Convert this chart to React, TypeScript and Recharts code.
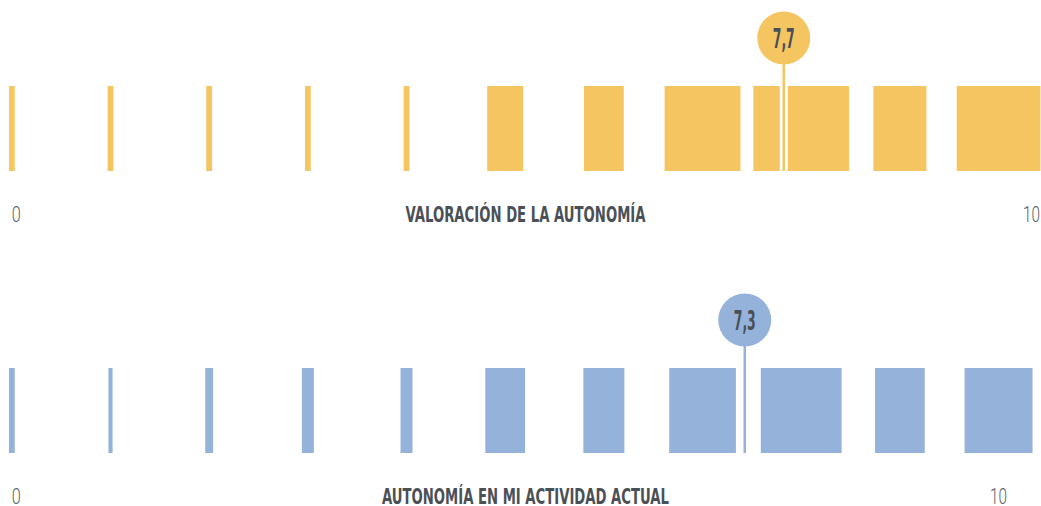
import React from 'react';
import { ComposedChart, XAxis, YAxis, ReferenceArea, ReferenceLine, ReferenceDot, Label } from 'recharts';

// score bins 0..10 and the share of answers (%) for each one
const scores = [0, 1, 2, 3, 4, 5, 6, 7, 8, 9, 10];
const autonomyShare = [1.4, 1.4, 1.4, 1.4, 1.4, 8.7, 9.6, 18.3, 23.1, 12.8, 20.2];
const currentShare = [1.4, 1.0, 1.9, 2.9, 2.9, 9.6, 9.9, 16.1, 19.5, 12.0, 16.4];
const autonomyMean = 7.7;
const currentMean = 7.3;
const tickValues = [0, 10];

const W = 1041;
const PLOT_H = 171;
const FONT = "'Liberation Sans Narrow', 'DejaVu Sans Condensed', 'Roboto Condensed', Roboto, sans-serif";
const TEXT = '#4b5057';

// bar width (in score units) per percentage point
const SHARE_TO_SCORE = 0.042;
const Y_MAX = 2.012;
const PIN_Y = 1.565;

type RowProps = {
  shares: number[];
  mean: number;
  color: string;
  title: string;
  titleLength: number;
  lastTickAtEdge: boolean;
  height: number;
};

const fmt = (v: number) => v.toFixed(1).replace('.', ',');

const ScoreTick = (props: any) => {
  const { x, y, payload, atEdge } = props;
  const v = payload.value;
  let anchor: 'start' | 'middle' | 'end' = 'middle';
  let tx = x;
  if (v === 0) anchor = 'start';
  else if (atEdge) {
    anchor = 'end';
    tx = W - 1;
  }
  return (
    <text x={tx} y={y + 51} textAnchor={anchor} fill="#5a5f66" fontFamily="Roboto, sans-serif"
      fontWeight={300} fontSize={22} textLength={v === 0 ? 9 : 17} lengthAdjust="spacingAndGlyphs">
      {v}
    </text>
  );
};

const Pin = (color: string, value: number) => (props: any) => {
  const { cx, cy } = props;
  return (
    <g>
      <circle cx={cx} cy={cy} r={26.5} fill={color} />
      <text x={cx} y={cy + 10} textAnchor="middle" fill={TEXT} fontFamily={FONT} fontWeight={700}
        fontSize={26} textLength={22} lengthAdjust="spacingAndGlyphs">
        {fmt(value)}
      </text>
    </g>
  );
};

const ScoreRow: React.FC<RowProps> = ({ shares, mean, color, title, titleLength, lastTickAtEdge, height }) => {
  const rows = scores.map((s, i) => ({ score: s, share: shares[i] }));
  return (
    <ComposedChart width={W} height={height} data={rows} margin={{ top: 0, right: 0, bottom: 0, left: 0 }}>
      <XAxis xAxisId="bars" dataKey="score" type="number" domain={[-0.12, 10.43]} allowDataOverflow
        ticks={tickValues} axisLine={false} tickLine={false} tickSize={0} tickMargin={0}
        height={height - PLOT_H} interval={0} tick={<ScoreTick atEdge={lastTickAtEdge} />}>
        <Label content={(p: any) => {
          const vb = p.viewBox;
          return (
            <text x={vb.x + vb.width / 2 + 5} y={vb.y + 51} textAnchor="middle" fill={TEXT}
              fontFamily={FONT} fontWeight={700} fontSize={21} textLength={titleLength}
              lengthAdjust="spacingAndGlyphs">
              {title}
            </text>
          );
        }} />
      </XAxis>
      <XAxis xAxisId="mean" dataKey="score" type="number" domain={[0, 10]} padding={{ left: 33, right: 33 }}
        allowDataOverflow hide />
      <YAxis type="number" domain={[0, Y_MAX]} allowDataOverflow hide />
      {rows.map((r) => (
        <ReferenceArea key={r.score} xAxisId="bars" x1={r.score - (r.share * SHARE_TO_SCORE) / 2}
          x2={r.score + (r.share * SHARE_TO_SCORE) / 2} y1={0} y2={1}
          fill={color} fillOpacity={1} stroke="none" ifOverflow="visible" />
      ))}
      <ReferenceLine xAxisId="mean" segment={[{ x: mean, y: 0 }, { x: mean, y: 1 }]}
        stroke="#ffffff" strokeWidth={8} ifOverflow="visible" />
      <ReferenceLine xAxisId="mean" segment={[{ x: mean, y: 0 }, { x: mean, y: PIN_Y }]}
        stroke={color} strokeWidth={2.5} ifOverflow="visible" />
      <ReferenceDot xAxisId="mean" x={mean} y={PIN_Y} r={26.5} ifOverflow="visible"
        shape={Pin(color, mean)} />
    </ComposedChart>
  );
};

export default function App() {
  return (
    <div style={{ position: 'absolute', left: 0, top: 0, width: W, height: 506, overflow: 'hidden', background: '#fff' }}>
      <div style={{ position: 'absolute', left: 0, top: 0 }}>
        <ScoreRow shares={autonomyShare} mean={autonomyMean} color="#f4c561" height={240}
          title="VALORACIÓN DE LA AUTONOMÍA" titleLength={240} lastTickAtEdge />
      </div>
      <div style={{ position: 'absolute', left: 0, top: 282 }}>
        <ScoreRow shares={currentShare} mean={currentMean} color="#95b2da" height={224}
          title="AUTONOMÍA EN MI ACTIVIDAD ACTUAL" titleLength={287} lastTickAtEdge={false} />
      </div>
    </div>
  );
}
